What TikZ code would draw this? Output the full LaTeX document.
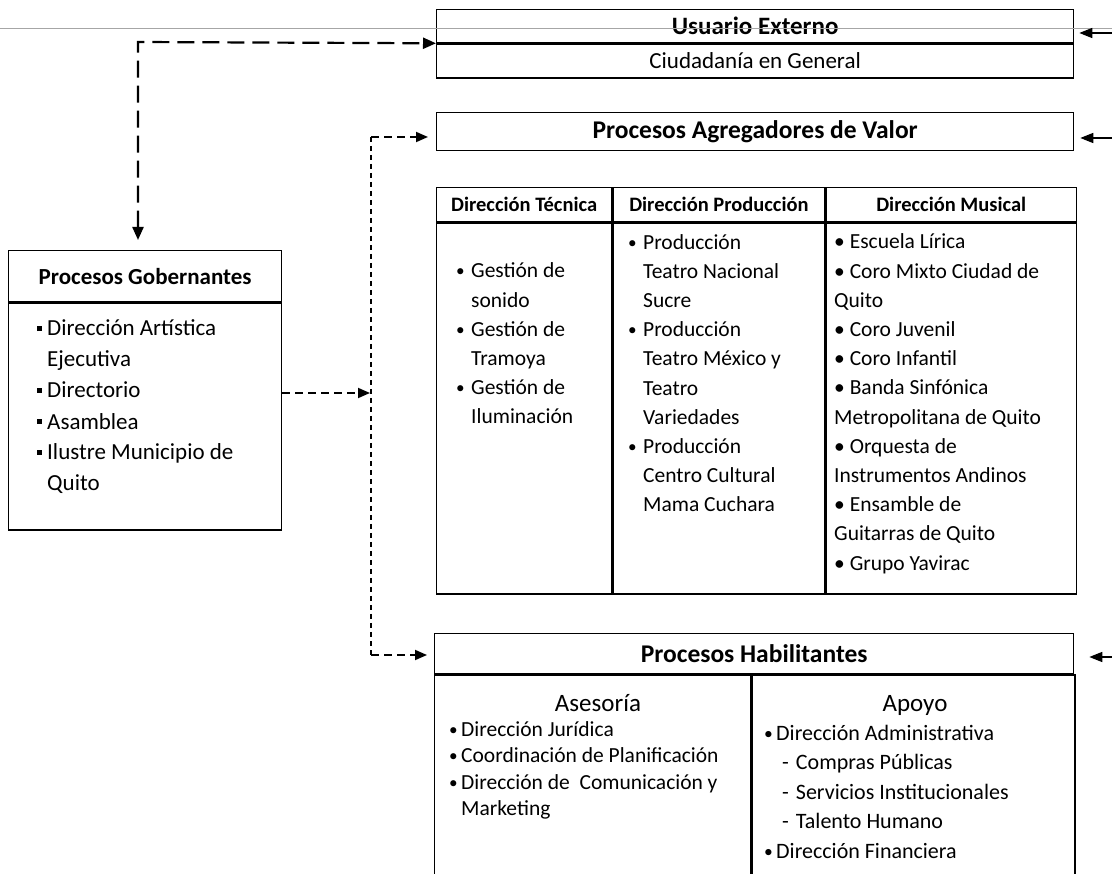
\documentclass[tikz,border=0pt]{standalone}
\usepackage{fontspec}
\setmainfont{Carlito}
\usepackage{graphicx}
\usetikzlibrary{arrows.meta,positioning}

\newcommand{\fs}[2]{\fontsize{#1}{#2}\selectfont}
\newcommand{\bul}[1][15pt]{\makebox[#1][l]{\raisebox{1pt}{\scalebox{.8}{\textbullet}}}}
\newcommand{\sqb}{\makebox[10pt][l]{\rule[5pt]{5pt}{5pt}}}
\newcommand{\sub}{\hspace*{18pt}-\hspace{7pt}}

\begin{document}
\begin{tikzpicture}[x=1pt,y=-1pt,
 box/.style={draw,line width=1.3pt,inner sep=0pt,anchor=north west,align=center},
 ttl/.style={font=\bfseries\fs{25.5}{30}},
 txt/.style={inner sep=0pt,anchor=base west,align=left,font=\fs{21.5}{29.2}},
 link/.style={{Triangle[length=13pt,width=11pt]}-{Triangle[length=13pt,width=11pt]},line width=2.2pt,dash pattern=on 17pt off 8pt},
 feed/.style={-{Triangle[length=12pt,width=10pt]},line width=1.8pt,dash pattern=on 8pt off 5pt},
 dots/.style={line width=2pt,dash pattern=on 5pt off 4pt},
 ext/.style={-{Triangle[length=13pt,width=10pt]},line width=1.5pt}]
\useasboundingbox (0,0) rectangle (1112,874);
\clip (0,0) rectangle (1112,874);

% usuario externo
\node[box,font=\bfseries\fs{25}{28},minimum width=637pt,minimum height=33pt] (ue) at (436,9) {Usuario Externo};
\node[box,below=0pt of ue,font=\fs{23}{26},minimum width=637pt,minimum height=34pt] (cg) {Ciudadanía en General};
\draw[gray!70,line width=.7pt] (0,28) -- (1112,28);

% agregadores de valor
\node[box,ttl,minimum width=637pt,minimum height=38pt] (pav) at (436,112) {Procesos Agregadores de Valor};
\node[box,font=\bfseries\fs{20.5}{24},minimum width=175pt,minimum height=34pt] (dt) at (436,187) {Dirección Técnica};
\node[box,right=0pt of dt,font=\bfseries\fs{20.5}{24},minimum width=212pt,minimum height=34pt] (dp) {Dirección Producción};
\node[box,right=0pt of dp,font=\bfseries\fs{20.5}{24},minimum width=250pt,minimum height=34pt] (dm) {Dirección Musical};
\node[box,below=0pt of dt,minimum width=175pt,minimum height=371pt] (bt) {};
\node[box,below=0pt of dp,minimum width=212pt,minimum height=371pt] (bp) {};
\node[box,below=0pt of dm,minimum width=250pt,minimum height=371pt] (bm) {};
% (base = baseline of the last line)
\node[txt] (lt) at (456,424) {\bul Gestión de\\ \hspace*{15pt}sonido\\ \bul Gestión de\\ \hspace*{15pt}Tramoya\\ \bul Gestión de\\ \hspace*{15pt}Iluminación};
\node[txt] (lp) at (628,512) {\bul Producción\\ \hspace*{15pt}Teatro Nacional\\ \hspace*{15pt}Sucre\\ \bul Producción\\ \hspace*{15pt}Teatro México y\\ \hspace*{15pt}Teatro\\ \hspace*{15pt}Variedades\\ \bul Producción\\ \hspace*{15pt}Centro Cultural\\ \hspace*{15pt}Mama Cuchara};
\node[txt] (lm) at (834,570) {\textbullet\ Escuela Lírica\\ \textbullet\ Coro Mixto Ciudad de\\ Quito\\ \textbullet\ Coro Juvenil\\ \textbullet\ Coro Infantil\\ \textbullet\ Banda Sinfónica\\ Metropolitana de Quito\\ \textbullet\ Orquesta de\\ Instrumentos Andinos\\ \textbullet\ Ensamble de\\ Guitarras de Quito\\ \textbullet\ Grupo Yavirac};

% gobernantes
\node[box,font=\bfseries\fs{23}{27},minimum width=273pt,minimum height=51pt] (pg) at (8,250) {Procesos Gobernantes};
\node[box,below=0pt of pg,minimum width=273pt,minimum height=227pt] (pgb) {};
\node[txt,font=\fs{23}{31}] (lg) at (37,491) {\sqb Dirección Artística\\ \hspace*{10pt}Ejecutiva\\ \sqb Directorio\\ \sqb Asamblea\\ \sqb Ilustre Municipio de\\ \hspace*{10pt}Quito};

% habilitantes
\node[box,ttl,minimum width=639pt,minimum height=40pt] (ph) at (434,633) {Procesos Habilitantes};
\node[box,below=0pt of ph.south west,anchor=north west,minimum width=316pt,minimum height=220pt] (as) {};
\node[box,right=0pt of as,minimum width=323pt,minimum height=220pt] (ap) {};
\node[font=\fs{25}{30},anchor=base] (ash) at (598,711) {Asesoría};
\node[font=\fs{25}{30},anchor=base] (aph) at (915,711) {Apoyo};
\node[txt,font=\fs{21.5}{26.5}] (la) at (449,815.5) {\bul[12pt]Dirección Jurídica\\ \bul[12pt]Coordinación de Planificación\\ \bul[12pt]Dirección de~ Comunicación y\\ \hspace*{12pt}Marketing};
\node[txt,font=\fs{22}{29.5}] (lo) at (764,858) {\bul[12pt]Dirección Administrativa\\ \sub Compras Públicas\\ \sub Servicios Institucionales\\ \sub Talento Humano\\ \bul[12pt]Dirección Financiera};

% conectores
\coordinate (tl) at (138,42);
\draw[link,shorten <=10pt] (tl |- pg.north) -- (tl) -- (ue.south west);
\coordinate (vt) at (371,137);
\coordinate (vm) at (371,393);
\coordinate (vb) at (371,655);
\draw[dots] (vt) -- (vb);
\draw[feed] (vt) -- ([xshift=-8pt]vt -| pav.west);
\draw[feed] (vb) -- ([xshift=-7pt]vb -| ph.west);
\draw[feed] (pgb.east |- vm) -- ([xshift=-1pt]vm);
\coordinate (r1) at (1112,33);
\coordinate (r2) at (1112,138);
\coordinate (r3) at (1112,657);
\draw[ext] (r1) -- ([xshift=5pt]r1 -| ue.east);
\draw[ext] (r2) -- ([xshift=6pt]r2 -| pav.east);
\draw[ext] (r3) -- ([xshift=15pt]r3 -| ph.east);
\end{tikzpicture}
\end{document}
